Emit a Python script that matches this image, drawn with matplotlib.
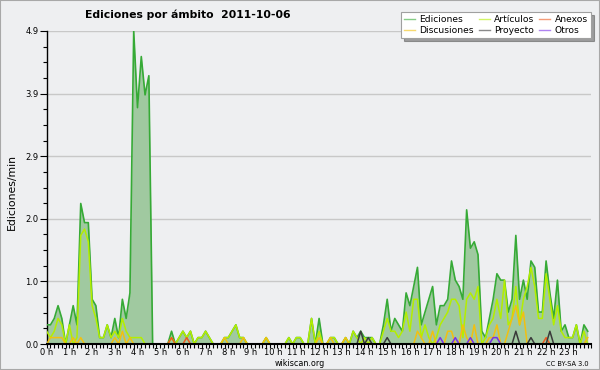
import numpy as np
import matplotlib.pyplot as plt
from matplotlib.lines import Line2D
from matplotlib.patches import Rectangle

# ediciones por minuto, un valor cada 10 min (6 por hora)
ediciones = [
    0.3, 0.3, 0.4, 0.6, 0.4, 0.0,   # 0 h
    0.3, 0.6, 0.3, 2.2, 1.9, 1.9,   # 1 h
    0.7, 0.6, 0.1, 0.1, 0.3, 0.1,   # 2 h
    0.4, 0.1, 0.7, 0.4, 0.8, 4.9,   # 3 h
    3.7, 4.5, 3.9, 4.2, 0.0, 0.0,   # 4 h
    0.0, 0.0, 0.0, 0.2, 0.0, 0.1,   # 5 h
    0.2, 0.1, 0.2, 0.0, 0.1, 0.1,   # 6 h
    0.2, 0.1, 0.0, 0.0, 0.0, 0.1,   # 7 h
    0.1, 0.2, 0.3, 0.1, 0.1, 0.0,   # 8 h
    0.0, 0.0, 0.0, 0.0, 0.1, 0.0,   # 9 h
    0.0, 0.0, 0.0, 0.0, 0.1, 0.0,   # 10 h
    0.1, 0.1, 0.0, 0.0, 0.4, 0.0,   # 11 h
    0.4, 0.0, 0.0, 0.1, 0.1, 0.0,   # 12 h
    0.0, 0.1, 0.0, 0.2, 0.1, 0.2,   # 13 h
    0.1, 0.1, 0.1, 0.0, 0.0, 0.3,   # 14 h
    0.7, 0.2, 0.4, 0.3, 0.2, 0.8,   # 15 h
    0.6, 0.9, 1.2, 0.3, 0.5, 0.7,   # 16 h
    0.9, 0.3, 0.6, 0.6, 0.7, 1.3,   # 17 h
    1.0, 0.9, 0.7, 2.1, 1.5, 1.6,   # 18 h
    1.4, 0.2, 0.1, 0.4, 0.7, 1.1,   # 19 h
    1.0, 1.0, 0.5, 0.7, 1.7, 0.7,   # 20 h
    1.0, 0.7, 1.3, 1.2, 0.5, 0.5,   # 21 h
    1.3, 0.8, 0.4, 1.0, 0.2, 0.3,   # 22 h
    0.1, 0.1, 0.3, 0.0, 0.3, 0.2,   # 23 h
]

articulos = [
    0.2, 0.1, 0.2, 0.4, 0.3, 0.0,
    0.3, 0.0, 0.1, 1.7, 1.8, 1.6,
    0.6, 0.4, 0.1, 0.1, 0.3, 0.1,
    0.2, 0.1, 0.4, 0.2, 0.1, 0.1,
    0.1, 0.1, 0.0, 0.0, 0.0, 0.0,
    0.0, 0.0, 0.0, 0.1, 0.0, 0.1,
    0.2, 0.1, 0.2, 0.0, 0.1, 0.1,
    0.2, 0.1, 0.0, 0.0, 0.0, 0.1,
    0.1, 0.2, 0.3, 0.1, 0.1, 0.0,
    0.0, 0.0, 0.0, 0.0, 0.1, 0.0,
    0.0, 0.0, 0.0, 0.0, 0.1, 0.0,
    0.1, 0.1, 0.0, 0.0, 0.4, 0.0,
    0.2, 0.0, 0.0, 0.1, 0.1, 0.0,
    0.0, 0.1, 0.0, 0.2, 0.1, 0.0,
    0.1, 0.0, 0.1, 0.0, 0.0, 0.2,
    0.4, 0.2, 0.2, 0.1, 0.2, 0.5,
    0.2, 0.7, 0.7, 0.1, 0.3, 0.1,
    0.0, 0.1, 0.3, 0.4, 0.5, 0.7,
    0.7, 0.6, 0.1, 0.7, 0.8, 0.7,
    0.9, 0.0, 0.1, 0.3, 0.4, 0.7,
    0.4, 1.0, 0.3, 0.4, 0.9, 0.3,
    0.7, 0.9, 1.2, 0.9, 0.4, 0.4,
    1.1, 0.7, 0.3, 0.6, 0.2, 0.1,
    0.1, 0.1, 0.3, 0.0, 0.2, 0.0,
]

# series con pocos valores: solo los instantes distintos de cero
discusiones = {"00:10": 0.1, "00:20": 0.1, "00:30": 0.1, "00:40": 0.1,
               "01:10": 0.1, "01:30": 0.1, "03:00": 0.1, "03:20": 0.2,
               "03:40": 0.1, "07:50": 0.1, "08:40": 0.1, "09:40": 0.1,
               "12:00": 0.1, "12:30": 0.1, "13:10": 0.1, "16:20": 0.2,
               "16:30": 0.1, "17:00": 0.2, "17:40": 0.2, "17:50": 0.2,
               "18:20": 0.3, "18:30": 0.1, "18:50": 0.3, "19:30": 0.1,
               "19:40": 0.1, "19:50": 0.3, "20:20": 0.2, "20:30": 0.4,
               "20:40": 0.6, "20:50": 0.3, "21:00": 0.5, "23:50": 0.1}
anexos = {"05:30": 0.1, "06:10": 0.1, "22:00": 0.1}
proyecto = {"13:50": 0.2, "14:10": 0.1, "15:00": 0.1,
            "20:40": 0.2, "21:20": 0.1, "22:10": 0.2}
otros = {"17:20": 0.1, "18:00": 0.1, "18:40": 0.1, "19:40": 0.1, "19:50": 0.1}

horas = [f"{h} h" for h in range(24)]


def serie(d):
    v = np.zeros(144)
    for k, val in d.items():
        hh, mm = k.split(":")
        v[int(hh) * 6 + int(mm) // 10] = val
    return v


x = np.arange(144) / 6.0
bg = "#eeeff1"

fig = plt.figure(figsize=(6, 3.7), dpi=100, facecolor=bg)
ax = fig.add_axes([46.7 / 600, 26 / 370, (591.5 - 46.7) / 600, 313 / 370])
ax.set_facecolor(bg)

ax.fill_between(x, ediciones, 0, color="#a0c9a0", lw=0, zorder=2)
ax.plot(x, ediciones, color="#36aa36", lw=1.2, zorder=3)
ax.plot(x, articulos, color="#b4ee00", lw=1.1, zorder=4)
ax.plot(x, serie(discusiones), color="#f2c010", lw=1.1, zorder=5)
ax.plot(x, serie(anexos), color="#ee5a20", lw=1.1, zorder=6)
ax.plot(x, serie(proyecto), color="#3a3a3a", lw=1.1, zorder=6)
ax.plot(x, serie(otros), color="#7a30e8", lw=1.1, zorder=6)

ax.set_xlim(0, 24)
ax.set_ylim(0, 4.9)
yt = np.linspace(0, 4.9, 6)
ax.set_yticks(yt)
ax.set_yticklabels([f"{v:.1f}" for v in yt])
ax.set_yticks(np.linspace(0, 4.9, 21), minor=True)
ax.set_xticks(range(24))
ax.set_xticklabels(horas)
ax.set_xticks(np.arange(0, 24.01, 1 / 6.0), minor=True)
ax.grid(axis="y", color="#c8c8c8", lw=1, zorder=1)

ax.tick_params(axis="y", which="major", length=5, width=0.8, labelsize=6, pad=1)
ax.tick_params(axis="y", which="minor", length=3, width=0.8)
ax.tick_params(axis="x", which="both", length=3, width=0.8, labelsize=6, pad=0)
for s in ["top", "right"]:
    ax.spines[s].set_visible(False)
ax.spines["left"].set_linewidth(1.0)
ax.spines["bottom"].set_linewidth(1.5)
ax.spines["bottom"].set_zorder(10)

fig.text(85 / 600, 1 - 18.5 / 370, "Ediciones por ámbito  2011-10-06",
         fontsize=7.8, fontweight="bold", va="baseline")
fig.text(12 / 600, 1 - 192 / 370, "Ediciones/min", rotation=90,
         fontsize=7.8, ha="center", va="center")
fig.text(300 / 600, 1 - 366 / 370, "wikiscan.org", fontsize=5.8,
         ha="center", va="baseline")
fig.text(589 / 600, 1 - 366 / 370, "CC BY-SA 3.0", fontsize=4.8,
         ha="right", va="baseline")

nombres = ["Ediciones", "Discusiones", "Artículos", "Proyecto", "Anexos", "Otros"]
colores = ["#36aa36", "#f2c010", "#b4ee00", "#3a3a3a", "#ee5a20", "#7a30e8"]
handles = [Line2D([], [], color=c, lw=1, alpha=0.6) for c in colores]
leg = fig.legend(handles, nombres, ncol=3, loc="upper right",
                 bbox_to_anchor=(591 / 600, 1 - 12 / 370), fontsize=6.6,
                 frameon=True, fancybox=False, shadow=True, framealpha=1,
                 edgecolor="#a0a0a0", handlelength=1.2, handletextpad=0.5,
                 columnspacing=0.5, labelspacing=0.2, borderpad=0.35,
                 borderaxespad=0)
leg.get_frame().set_linewidth(0.8)

fig.patches.append(Rectangle((0, 0), 1, 1, transform=fig.transFigure,
                             fill=False, edgecolor="#a8a8a8", lw=1.5))

fig.savefig("out.png", dpi=100, facecolor=bg)
